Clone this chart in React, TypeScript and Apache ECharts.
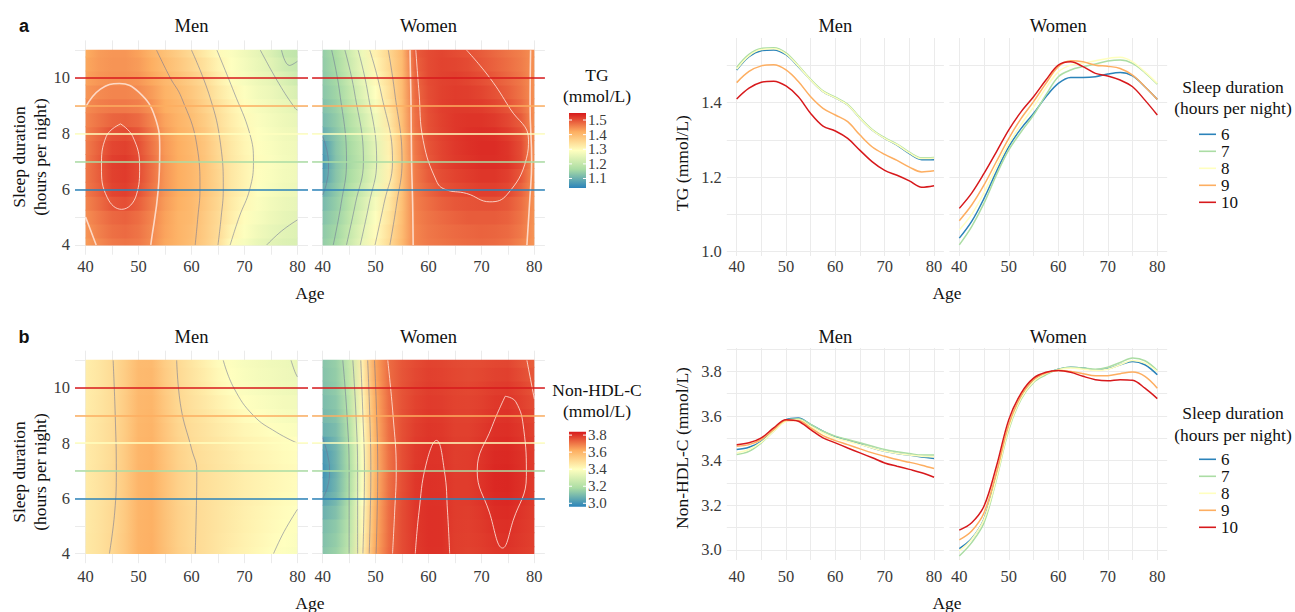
import React, { useEffect, useRef } from "react";
import * as echarts from "echarts";

// ---------------- data ----------------
const AGES = [40, 42.5, 45, 47.5, 50, 52.5, 55, 57.5, 60, 62.5, 65, 67.5, 70, 72.5, 75, 77.5, 80];
const SLEEP_ROWS = [4, 4.5, 5, 5.5, 6, 6.5, 7, 7.5, 8, 8.5, 9, 9.5, 10, 10.5, 11];
const SLEEP_GROUPS = ["6", "7", "8", "9", "10"];

const AGE_LABELS = [40, 50, 60, 70, 80];
const AGE_GRIDLINES = [40, 45, 50, 55, 60, 65, 70, 75, 80];
const SLEEP_LABELS = [4, 6, 8, 10];
const SLEEP_GRIDLINES = [4, 5, 6, 7, 8, 9, 10, 11];
const TG_AXIS_LABELS = [1.0, 1.2, 1.4];
const TG_AXIS_GRIDLINES = [1.0, 1.1, 1.2, 1.3, 1.4, 1.5];
const NHDL_AXIS_LABELS = [3.0, 3.2, 3.4, 3.6, 3.8];
const NHDL_AXIS_GRIDLINES = [3.0, 3.1, 3.2, 3.3, 3.4, 3.5, 3.6, 3.7, 3.8, 3.9];
const TG_BAR_LABELS = [1.1, 1.2, 1.3, 1.4, 1.5];
const NHDL_BAR_LABELS = [3.0, 3.2, 3.4, 3.6, 3.8];
const TG_SCALE = [1.035, 1.548];
const NHDL_SCALE = [2.96, 3.84];

// heat maps: rows = SLEEP_ROWS (4 .. 11), columns = AGES (40 .. 80)
const TG_MEN_HEAT = [
  [1.435, 1.452, 1.465, 1.470, 1.465, 1.449, 1.425, 1.410, 1.395, 1.372, 1.345, 1.300, 1.280, 1.260, 1.248, 1.240, 1.235],
  [1.441, 1.459, 1.473, 1.478, 1.470, 1.452, 1.428, 1.410, 1.397, 1.374, 1.348, 1.310, 1.288, 1.270, 1.256, 1.247, 1.241],
  [1.447, 1.465, 1.480, 1.485, 1.475, 1.455, 1.430, 1.410, 1.400, 1.375, 1.350, 1.320, 1.295, 1.280, 1.265, 1.255, 1.248],
  [1.456, 1.476, 1.496, 1.502, 1.488, 1.462, 1.435, 1.415, 1.402, 1.380, 1.355, 1.325, 1.302, 1.285, 1.272, 1.262, 1.256],
  [1.465, 1.485, 1.510, 1.515, 1.500, 1.470, 1.440, 1.420, 1.405, 1.385, 1.360, 1.330, 1.310, 1.290, 1.280, 1.270, 1.265],
  [1.466, 1.489, 1.514, 1.519, 1.504, 1.473, 1.440, 1.420, 1.405, 1.385, 1.358, 1.330, 1.310, 1.293, 1.283, 1.273, 1.268],
  [1.465, 1.490, 1.515, 1.520, 1.505, 1.475, 1.440, 1.420, 1.405, 1.385, 1.355, 1.330, 1.310, 1.295, 1.285, 1.275, 1.270],
  [1.463, 1.486, 1.509, 1.514, 1.501, 1.470, 1.438, 1.418, 1.403, 1.383, 1.353, 1.328, 1.308, 1.293, 1.283, 1.273, 1.268],
  [1.460, 1.480, 1.500, 1.505, 1.495, 1.465, 1.435, 1.415, 1.400, 1.380, 1.350, 1.325, 1.305, 1.290, 1.280, 1.270, 1.265],
  [1.455, 1.470, 1.483, 1.486, 1.478, 1.455, 1.428, 1.410, 1.395, 1.373, 1.345, 1.320, 1.300, 1.285, 1.275, 1.265, 1.258],
  [1.450, 1.460, 1.465, 1.465, 1.460, 1.445, 1.420, 1.405, 1.390, 1.365, 1.340, 1.315, 1.295, 1.280, 1.270, 1.260, 1.250],
  [1.440, 1.450, 1.455, 1.455, 1.450, 1.435, 1.412, 1.398, 1.380, 1.358, 1.330, 1.305, 1.288, 1.272, 1.262, 1.247, 1.232],
  [1.430, 1.440, 1.445, 1.445, 1.440, 1.425, 1.405, 1.390, 1.370, 1.350, 1.320, 1.295, 1.280, 1.265, 1.255, 1.235, 1.215],
  [1.425, 1.437, 1.442, 1.442, 1.435, 1.418, 1.398, 1.380, 1.360, 1.338, 1.310, 1.290, 1.275, 1.260, 1.245, 1.220, 1.205],
  [1.420, 1.435, 1.440, 1.440, 1.430, 1.410, 1.390, 1.370, 1.350, 1.325, 1.300, 1.285, 1.270, 1.255, 1.235, 1.205, 1.195],
];

const TG_WOMEN_HEAT = [
  [1.140, 1.160, 1.210, 1.258, 1.302, 1.347, 1.400, 1.455, 1.465, 1.470, 1.475, 1.478, 1.480, 1.478, 1.472, 1.458, 1.440],
  [1.135, 1.155, 1.203, 1.250, 1.296, 1.342, 1.397, 1.455, 1.467, 1.473, 1.478, 1.482, 1.484, 1.483, 1.478, 1.465, 1.441],
  [1.125, 1.148, 1.193, 1.240, 1.288, 1.335, 1.395, 1.458, 1.470, 1.478, 1.485, 1.490, 1.490, 1.490, 1.485, 1.470, 1.442],
  [1.112, 1.140, 1.182, 1.228, 1.277, 1.327, 1.392, 1.460, 1.475, 1.487, 1.495, 1.498, 1.500, 1.500, 1.494, 1.475, 1.443],
  [1.095, 1.133, 1.172, 1.214, 1.263, 1.320, 1.390, 1.462, 1.483, 1.498, 1.505, 1.510, 1.515, 1.515, 1.508, 1.485, 1.444],
  [1.075, 1.128, 1.163, 1.203, 1.252, 1.314, 1.389, 1.464, 1.490, 1.503, 1.512, 1.518, 1.523, 1.523, 1.515, 1.495, 1.445],
  [1.062, 1.125, 1.158, 1.197, 1.246, 1.310, 1.388, 1.465, 1.495, 1.510, 1.520, 1.525, 1.530, 1.530, 1.525, 1.505, 1.445],
  [1.068, 1.127, 1.161, 1.200, 1.250, 1.313, 1.389, 1.467, 1.497, 1.511, 1.521, 1.527, 1.532, 1.532, 1.524, 1.504, 1.446],
  [1.095, 1.131, 1.167, 1.207, 1.258, 1.319, 1.391, 1.470, 1.500, 1.513, 1.522, 1.528, 1.530, 1.528, 1.518, 1.500, 1.446],
  [1.112, 1.138, 1.176, 1.218, 1.269, 1.326, 1.393, 1.472, 1.501, 1.514, 1.522, 1.525, 1.525, 1.520, 1.508, 1.490, 1.445],
  [1.122, 1.145, 1.186, 1.230, 1.280, 1.333, 1.395, 1.474, 1.502, 1.515, 1.520, 1.520, 1.518, 1.510, 1.498, 1.478, 1.445],
  [1.130, 1.152, 1.196, 1.242, 1.291, 1.340, 1.397, 1.477, 1.503, 1.514, 1.518, 1.516, 1.510, 1.500, 1.488, 1.470, 1.445],
  [1.135, 1.157, 1.204, 1.252, 1.301, 1.346, 1.398, 1.480, 1.505, 1.513, 1.515, 1.510, 1.502, 1.492, 1.480, 1.466, 1.445],
  [1.138, 1.161, 1.210, 1.259, 1.308, 1.351, 1.399, 1.485, 1.505, 1.512, 1.510, 1.505, 1.495, 1.485, 1.475, 1.463, 1.445],
  [1.140, 1.165, 1.215, 1.265, 1.315, 1.355, 1.400, 1.490, 1.505, 1.510, 1.505, 1.499, 1.490, 1.480, 1.470, 1.460, 1.445],
];

const NHDL_MEN_HEAT = [
  [3.460, 3.480, 3.505, 3.550, 3.605, 3.615, 3.570, 3.530, 3.505, 3.490, 3.470, 3.450, 3.435, 3.420, 3.405, 3.395, 3.385],
  [3.460, 3.480, 3.505, 3.550, 3.604, 3.614, 3.569, 3.529, 3.504, 3.490, 3.471, 3.453, 3.438, 3.424, 3.410, 3.399, 3.390],
  [3.458, 3.478, 3.503, 3.548, 3.603, 3.613, 3.568, 3.528, 3.503, 3.489, 3.472, 3.456, 3.441, 3.428, 3.415, 3.404, 3.395],
  [3.457, 3.477, 3.502, 3.547, 3.602, 3.612, 3.567, 3.527, 3.502, 3.489, 3.473, 3.458, 3.443, 3.431, 3.419, 3.408, 3.400],
  [3.456, 3.476, 3.501, 3.546, 3.601, 3.611, 3.566, 3.526, 3.501, 3.489, 3.474, 3.460, 3.445, 3.434, 3.423, 3.412, 3.405],
  [3.455, 3.475, 3.500, 3.545, 3.600, 3.610, 3.565, 3.525, 3.500, 3.488, 3.474, 3.460, 3.446, 3.435, 3.425, 3.415, 3.408],
  [3.455, 3.475, 3.500, 3.545, 3.600, 3.610, 3.565, 3.525, 3.500, 3.488, 3.473, 3.460, 3.445, 3.435, 3.425, 3.415, 3.410],
  [3.454, 3.474, 3.499, 3.544, 3.599, 3.609, 3.563, 3.523, 3.498, 3.485, 3.470, 3.456, 3.441, 3.431, 3.421, 3.411, 3.405],
  [3.453, 3.473, 3.498, 3.543, 3.598, 3.607, 3.560, 3.520, 3.495, 3.480, 3.465, 3.450, 3.435, 3.425, 3.415, 3.405, 3.400],
  [3.452, 3.472, 3.497, 3.542, 3.596, 3.604, 3.557, 3.515, 3.492, 3.475, 3.457, 3.440, 3.424, 3.413, 3.403, 3.393, 3.388],
  [3.451, 3.471, 3.496, 3.541, 3.594, 3.601, 3.553, 3.510, 3.488, 3.470, 3.450, 3.430, 3.410, 3.400, 3.390, 3.380, 3.375],
  [3.450, 3.470, 3.495, 3.540, 3.592, 3.598, 3.549, 3.507, 3.483, 3.462, 3.437, 3.417, 3.400, 3.390, 3.380, 3.370, 3.365],
  [3.449, 3.469, 3.495, 3.539, 3.590, 3.595, 3.545, 3.505, 3.480, 3.455, 3.425, 3.405, 3.390, 3.380, 3.370, 3.360, 3.355],
  [3.448, 3.468, 3.495, 3.538, 3.588, 3.592, 3.540, 3.502, 3.475, 3.448, 3.418, 3.400, 3.385, 3.375, 3.365, 3.357, 3.350],
  [3.447, 3.467, 3.495, 3.537, 3.585, 3.588, 3.535, 3.500, 3.470, 3.440, 3.410, 3.395, 3.380, 3.370, 3.360, 3.355, 3.345],
];

const NHDL_WOMEN_HEAT = [
  [3.120, 3.150, 3.240, 3.440, 3.630, 3.720, 3.765, 3.792, 3.805, 3.803, 3.785, 3.780, 3.785, 3.795, 3.798, 3.790, 3.780],
  [3.110, 3.140, 3.230, 3.430, 3.625, 3.718, 3.765, 3.793, 3.806, 3.804, 3.786, 3.782, 3.788, 3.799, 3.803, 3.793, 3.782],
  [3.100, 3.130, 3.220, 3.420, 3.620, 3.716, 3.764, 3.794, 3.806, 3.804, 3.787, 3.784, 3.792, 3.805, 3.808, 3.796, 3.784],
  [3.070, 3.110, 3.210, 3.410, 3.615, 3.714, 3.763, 3.795, 3.806, 3.804, 3.788, 3.786, 3.796, 3.810, 3.813, 3.800, 3.786],
  [3.040, 3.090, 3.200, 3.400, 3.610, 3.712, 3.762, 3.795, 3.805, 3.803, 3.788, 3.788, 3.800, 3.815, 3.818, 3.804, 3.788],
  [3.010, 3.080, 3.190, 3.390, 3.605, 3.710, 3.761, 3.795, 3.804, 3.802, 3.788, 3.789, 3.802, 3.818, 3.820, 3.806, 3.789],
  [3.000, 3.075, 3.185, 3.385, 3.600, 3.708, 3.760, 3.794, 3.803, 3.801, 3.787, 3.789, 3.802, 3.818, 3.820, 3.806, 3.790],
  [3.010, 3.078, 3.190, 3.390, 3.603, 3.709, 3.760, 3.792, 3.802, 3.800, 3.786, 3.788, 3.800, 3.815, 3.817, 3.804, 3.788],
  [3.030, 3.085, 3.195, 3.395, 3.607, 3.711, 3.760, 3.790, 3.800, 3.797, 3.785, 3.786, 3.797, 3.811, 3.813, 3.800, 3.785],
  [3.070, 3.100, 3.205, 3.405, 3.612, 3.713, 3.759, 3.786, 3.797, 3.794, 3.783, 3.783, 3.793, 3.806, 3.808, 3.795, 3.780],
  [3.090, 3.115, 3.215, 3.415, 3.617, 3.715, 3.757, 3.782, 3.794, 3.791, 3.781, 3.780, 3.788, 3.800, 3.803, 3.790, 3.774],
  [3.100, 3.125, 3.225, 3.425, 3.622, 3.716, 3.755, 3.778, 3.790, 3.787, 3.778, 3.776, 3.783, 3.794, 3.797, 3.782, 3.765],
  [3.110, 3.135, 3.235, 3.435, 3.627, 3.717, 3.753, 3.774, 3.786, 3.783, 3.775, 3.772, 3.778, 3.787, 3.790, 3.775, 3.755],
  [3.115, 3.140, 3.240, 3.440, 3.632, 3.718, 3.751, 3.770, 3.782, 3.779, 3.772, 3.768, 3.772, 3.780, 3.782, 3.765, 3.745],
  [3.120, 3.145, 3.245, 3.445, 3.635, 3.718, 3.750, 3.766, 3.778, 3.775, 3.768, 3.764, 3.766, 3.772, 3.774, 3.755, 3.735],
];

// contour lines of the heat maps: [age, sleep] points
const TG_MEN_CONTOURS = [
  { level: 1.5, points: [[46.6, 8.35], [48.9, 7.9], [50.2, 6.8], [49.6, 5.8], [46.8, 5.28], [44.1, 5.7], [43.0, 6.8], [43.9, 7.9], [46.6, 8.35]] },
  { level: 1.45, points: [[40, 8.95], [42.8, 9.6], [46.4, 9.8], [50, 9.5], [53.1, 8.6], [54, 7.4], [53.7, 5.95], [52.4, 4.13], [52.3, 4]] },
  { level: 1.45, points: [[40, 5.0], [41, 4.5], [42, 4]] },
  { level: 1.4, points: [[53.4, 11], [56, 10], [58.1, 9.3], [61, 7.6], [61.6, 6], [61.2, 5], [60.7, 4]] },
  { level: 1.35, points: [[60, 11], [63.5, 9.3], [65.5, 7.6], [66, 6], [65.6, 5], [65, 4]] },
  { level: 1.3, points: [[64.8, 11], [68, 9.5], [71, 8], [71.7, 7], [71, 6], [69, 5], [67.3, 4]] },
  { level: 1.25, points: [[73, 11], [76.5, 9.8], [79.6, 8.9], [80, 8.85]] },
  { level: 1.25, points: [[74.2, 4], [77, 4.5], [80, 4.9]] },
  { level: 1.2, points: [[77, 11], [78.5, 10.45], [80, 10.6]] },
];
const TG_WOMEN_CONTOURS = [
  { level: 1.1, points: [[40, 7.9], [40.9, 7.3], [41.1, 6.8], [40.7, 6.2], [40, 5.8]] },
  { level: 1.15, points: [[41.7, 11], [43.2, 9.5], [44.5, 7], [43.5, 5.5], [42, 4]] },
  { level: 1.2, points: [[44.2, 11], [46, 9.5], [47.7, 7], [46.2, 5.5], [44.5, 4]] },
  { level: 1.25, points: [[46.7, 11], [48.5, 9.5], [50.2, 7], [48.8, 5.5], [47.1, 4]] },
  { level: 1.3, points: [[48.9, 11], [51, 9.5], [53.2, 7], [51.6, 5.5], [49.9, 4]] },
  { level: 1.35, points: [[52.4, 11], [53.6, 9.5], [55, 7], [54, 5.5], [52.7, 4]] },
  { level: 1.45, points: [[56.5, 11], [56.7, 9], [56.8, 7], [57, 5.5], [57.1, 4]] },
  { level: 1.5, points: [[57.6, 11], [58.2, 9.5], [59, 7.75], [61.5, 6.3], [63.1, 6], [67.2, 5.85], [71.6, 5.55], [74.8, 5.8], [78.5, 7.1], [78.9, 7.8], [75.4, 8.9], [71.6, 10], [67.2, 11]] },
  { level: 1.45, points: [[79.3, 11], [79.2, 9], [79.5, 7], [79.1, 5.5], [78.6, 4]] },
];
const NHDL_MEN_CONTOURS = [
  { level: 3.5, points: [[45.2, 11], [45.6, 9], [45.8, 7], [45.5, 5.5], [44.5, 4]] },
  { level: 3.5, points: [[57.2, 11], [58, 9.3], [60, 7.8], [61, 7], [60.9, 5.5], [60.7, 4]] },
  { level: 3.4, points: [[66, 11], [68, 10], [71.7, 9], [76, 8.4], [80, 8]] },
  { level: 3.4, points: [[75.5, 4], [77.5, 4.8], [80, 5.6]] },
  { level: 3.35, points: [[78.8, 11], [79.5, 10.6], [80, 10.4]] },
];
const NHDL_WOMEN_CONTOURS = [
  { level: 3.05, points: [[40, 8.2], [40.9, 7.6], [41.3, 7], [40.9, 6.4], [40, 6]] },
  { level: 3.2, points: [[43.8, 11], [44.6, 9], [45, 7], [45, 5.5], [45, 4]] },
  { level: 3.3, points: [[45.7, 11], [46.3, 9], [46.6, 7], [46.6, 5.5], [46.6, 4]] },
  { level: 3.4, points: [[47.2, 11], [47.6, 9], [47.9, 7], [47.8, 5.5], [47.6, 4]] },
  { level: 3.5, points: [[48.5, 11], [48.9, 9], [49.1, 7], [49, 5.5], [48.8, 4]] },
  { level: 3.6, points: [[49.8, 11], [50.2, 9], [50.4, 7], [50.3, 5.5], [50.1, 4]] },
  { level: 3.75, points: [[52.3, 11], [53.3, 9], [53.9, 7], [53.6, 5.5], [53.2, 4]] },
  { level: 3.8, points: [[57.5, 4], [58.2, 5.5], [59.5, 7.2], [61.5, 8.1], [63, 7], [63.6, 5.5], [64, 4]] },
  { level: 3.8, points: [[74.5, 9.7], [72, 8.6], [69.2, 7], [71.5, 5.5], [74, 4.2], [76, 5.2], [78.5, 6.8], [78, 8.5], [76.5, 9.5], [74.5, 9.7]] },
  { level: 3.75, points: [[78.6, 11], [79.3, 10.3], [80, 9.6]] },
];

// line charts: rows = SLEEP_GROUPS (6..10), columns = AGES
const TG_MEN_LINES = [
  [1.488, 1.524, 1.540, 1.542, 1.529, 1.497, 1.461, 1.430, 1.413, 1.394, 1.358, 1.326, 1.304, 1.286, 1.263, 1.247, 1.247],
  [1.495, 1.530, 1.546, 1.548, 1.534, 1.500, 1.463, 1.432, 1.415, 1.396, 1.360, 1.328, 1.306, 1.289, 1.267, 1.252, 1.253],
  [1.490, 1.526, 1.543, 1.545, 1.531, 1.498, 1.461, 1.430, 1.413, 1.394, 1.358, 1.326, 1.304, 1.287, 1.265, 1.250, 1.251],
  [1.454, 1.484, 1.499, 1.502, 1.488, 1.457, 1.416, 1.385, 1.367, 1.349, 1.313, 1.281, 1.261, 1.245, 1.227, 1.214, 1.217],
  [1.410, 1.439, 1.455, 1.458, 1.445, 1.416, 1.371, 1.337, 1.324, 1.304, 1.272, 1.241, 1.218, 1.205, 1.190, 1.173, 1.177],
];
const TG_WOMEN_LINES = [
  [1.036, 1.081, 1.143, 1.215, 1.282, 1.331, 1.371, 1.416, 1.452, 1.468, 1.468, 1.470, 1.477, 1.481, 1.472, 1.443, 1.409],
  [1.018, 1.067, 1.130, 1.206, 1.273, 1.322, 1.367, 1.421, 1.470, 1.488, 1.497, 1.504, 1.512, 1.515, 1.506, 1.481, 1.450],
  [1.058, 1.100, 1.158, 1.228, 1.290, 1.342, 1.388, 1.440, 1.483, 1.501, 1.506, 1.513, 1.519, 1.522, 1.510, 1.483, 1.452],
  [1.083, 1.125, 1.179, 1.242, 1.304, 1.358, 1.403, 1.452, 1.497, 1.513, 1.510, 1.501, 1.498, 1.492, 1.474, 1.443, 1.409],
  [1.116, 1.157, 1.210, 1.268, 1.327, 1.376, 1.416, 1.461, 1.501, 1.510, 1.497, 1.479, 1.472, 1.461, 1.443, 1.407, 1.367],
];
const NHDL_MEN_LINES = [
  [3.450, 3.460, 3.487, 3.536, 3.584, 3.591, 3.562, 3.532, 3.507, 3.492, 3.475, 3.457, 3.442, 3.432, 3.425, 3.417, 3.410],
  [3.428, 3.442, 3.480, 3.532, 3.580, 3.588, 3.562, 3.532, 3.510, 3.495, 3.480, 3.465, 3.450, 3.440, 3.432, 3.425, 3.425],
  [3.435, 3.450, 3.483, 3.532, 3.577, 3.584, 3.554, 3.524, 3.502, 3.487, 3.472, 3.457, 3.442, 3.432, 3.425, 3.420, 3.418],
  [3.465, 3.472, 3.495, 3.539, 3.580, 3.580, 3.547, 3.512, 3.490, 3.472, 3.453, 3.435, 3.420, 3.405, 3.393, 3.380, 3.365],
  [3.472, 3.480, 3.502, 3.547, 3.584, 3.577, 3.539, 3.502, 3.480, 3.457, 3.435, 3.413, 3.390, 3.375, 3.361, 3.346, 3.326],
];
const NHDL_WOMEN_LINES = [
  [3.006, 3.051, 3.140, 3.331, 3.554, 3.685, 3.758, 3.790, 3.810, 3.819, 3.815, 3.807, 3.812, 3.830, 3.845, 3.830, 3.785],
  [2.973, 3.033, 3.122, 3.316, 3.539, 3.676, 3.751, 3.785, 3.810, 3.819, 3.815, 3.810, 3.819, 3.840, 3.860, 3.848, 3.804],
  [2.996, 3.048, 3.137, 3.323, 3.547, 3.681, 3.755, 3.790, 3.807, 3.815, 3.810, 3.804, 3.810, 3.830, 3.849, 3.837, 3.800],
  [3.045, 3.085, 3.167, 3.346, 3.562, 3.691, 3.763, 3.793, 3.804, 3.800, 3.790, 3.781, 3.781, 3.790, 3.797, 3.778, 3.725],
  [3.089, 3.122, 3.197, 3.375, 3.584, 3.703, 3.770, 3.796, 3.804, 3.796, 3.778, 3.763, 3.758, 3.763, 3.760, 3.725, 3.678],
];

// ---------------- styles / layout ----------------
const SERIF = "'Liberation Serif', 'Times New Roman', serif";
const SANS = "'Liberation Sans', Arial, sans-serif";
const SLEEP_COLORS = ["#2b83ba", "#abdda4", "#ffffbf", "#fdae61", "#d7191c"];
const HEAT_PALETTE = ["#2b83ba", "#abdda4", "#ffffbf", "#fdae61", "#d7191c"];
const TICK_COLOR = "#3a3a3a";
const TITLE_COLOR = "#111111";
const GRID_COLOR = "#ebebeb";

const PANELS = [
  { kind: "heat", left: 75, top: 40.4, width: 233, height: 214.3, showY: true, xMargin: 3.5 },
  { kind: "heat", left: 312.1, top: 40.4, width: 232.8, height: 214.3, showY: false, xMargin: 3.5 },
  { kind: "tg", left: 726.8, top: 38, width: 217.1, height: 218, showY: true, xMargin: 2 },
  { kind: "tg", left: 949.4, top: 38, width: 217.8, height: 218, showY: false, xMargin: 2 },
  { kind: "heat", left: 75, top: 350.7, width: 233, height: 212.5, showY: true, xMargin: 5 },
  { kind: "heat", left: 312.1, top: 350.7, width: 232.8, height: 212.5, showY: false, xMargin: 5 },
  { kind: "nhdl", left: 726.8, top: 348, width: 217.1, height: 212, showY: true, xMargin: 8 },
  { kind: "nhdl", left: 949.4, top: 348, width: 217.8, height: 212, showY: false, xMargin: 8 },
];

function hexRgb(h: string) {
  return [parseInt(h.slice(1, 3), 16), parseInt(h.slice(3, 5), 16), parseInt(h.slice(5, 7), 16)];
}
function colorOf(v: number, scale: number[]) {
  let t = (v - scale[0]) / (scale[1] - scale[0]);
  t = Math.max(0, Math.min(1, t));
  const n = HEAT_PALETTE.length - 1;
  const p = t * n;
  const i = Math.min(n - 1, Math.floor(p));
  const f = p - i;
  const a = hexRgb(HEAT_PALETTE[i]);
  const b = hexRgb(HEAT_PALETTE[i + 1]);
  const c = a.map((x, k) => Math.round(x + (b[k] - x) * f));
  return `rgb(${c[0]},${c[1]},${c[2]})`;
}

function heatSeries(gi: number, values: number[][], scale: number[]) {
  return {
    type: "custom",
    xAxisIndex: gi,
    yAxisIndex: gi,
    silent: true,
    z: 1,
    data: SLEEP_ROWS.map((s) => [40, s]),
    renderItem: (params: any, api: any) => {
      const j = params.dataIndex;
      const s = SLEEP_ROWS[j];
      const lo = Math.max(4, s - 0.25);
      const hi = Math.min(11, s + 0.25);
      const p0 = api.coord([40, hi]);
      const p1 = api.coord([80, lo]);
      return {
        type: "rect",
        shape: { x: p0[0], y: p0[1] - 0.5, width: p1[0] - p0[0], height: p1[1] - p0[1] + 1 },
        style: {
          fill: {
            type: "linear", x: 0, y: 0, x2: 1, y2: 0,
            colorStops: AGES.map((a, i) => ({ offset: (a - 40) / 40, color: colorOf(values[j][i], scale) })),
          },
        },
      };
    },
  };
}

function contourSeries(gi: number, contours: { level: number; points: number[][] }[], scale: number[]) {
  return contours.map((c) => {
    const t = (c.level - scale[0]) / (scale[1] - scale[0]);
    const color = t > 0.74 ? "rgba(255,236,228,0.8)" : "rgba(110,115,150,0.55)";
    return {
      type: "line",
      xAxisIndex: gi,
      yAxisIndex: gi,
      data: c.points,
      smooth: 0.45,
      symbol: "none",
      silent: true,
      z: 2,
      lineStyle: { color, width: t > 0.74 && t < 0.85 ? 1.6 : 1 },
    };
  });
}

function hlineSeries(gi: number) {
  return {
    type: "line",
    xAxisIndex: gi,
    yAxisIndex: gi,
    data: [],
    silent: true,
    z: 3,
    markLine: {
      silent: true,
      symbol: ["none", "none"],
      label: { show: false },
      animation: false,
      data: SLEEP_GROUPS.map((g, i) => ({
        yAxis: Number(g),
        lineStyle: { color: SLEEP_COLORS[i], width: 1.6, type: "solid", opacity: 1 },
      })),
    },
  };
}

function lineSeries(gi: number, rows: number[][]) {
  return SLEEP_GROUPS.map((g, i) => ({
    type: "line",
    name: g,
    xAxisIndex: gi,
    yAxisIndex: gi,
    data: AGES.map((a, k) => [a, rows[i][k]]),
    smooth: 0.35,
    symbol: "none",
    z: 2,
    lineStyle: { color: SLEEP_COLORS[i], width: 1.5 },
    itemStyle: { color: SLEEP_COLORS[i] },
  }));
}

function txt(x: number, y: number, text: string, size: number, opts: any = {}) {
  return {
    type: "text",
    x,
    y,
    rotation: opts.rotation || 0,
    silent: true,
    z: 10,
    style: {
      text,
      fill: opts.color || TITLE_COLOR,
      fontSize: size,
      fontFamily: opts.family || SERIF,
      fontWeight: opts.weight || "normal",
      align: opts.align || "center",
      verticalAlign: "middle",
      textAlign: opts.align || "center",
      textVerticalAlign: "middle",
    },
  };
}

function colorbar(x: number, top: number, h: number, scale: number[], labels: number[], titles: string[], titleYs: number[]) {
  const els: any[] = [];
  els.push({
    type: "rect",
    x,
    y: top,
    shape: { x: 0, y: 0, width: 17, height: h },
    silent: true,
    style: {
      fill: {
        type: "linear", x: 0, y: 1, x2: 0, y2: 0,
        colorStops: HEAT_PALETTE.map((c, i) => ({ offset: i / (HEAT_PALETTE.length - 1), color: c })),
      },
    },
  });
  labels.forEach((v) => {
    const y = top + ((scale[1] - v) / (scale[1] - scale[0])) * h;
    els.push(txt(x + 19, y, v.toFixed(1), 15, { align: "left", color: TICK_COLOR }));
    els.push({ type: "line", silent: true, shape: { x1: x, y1: y, x2: x + 3, y2: y }, style: { stroke: "#ffffff", lineWidth: 1 } });
    els.push({ type: "line", silent: true, shape: { x1: x + 14, y1: y, x2: x + 17, y2: y }, style: { stroke: "#ffffff", lineWidth: 1 } });
  });
  titles.forEach((t, i) => els.push(txt(597, titleYs[i], t, 17.5)));
  return els;
}

function buildOption() {
  const grid = PANELS.map((p) => ({ left: p.left, top: p.top, width: p.width, height: p.height, containLabel: false }));
  const xAxis = PANELS.map((p, gi) => ({
    type: "value",
    gridIndex: gi,
    min: 38,
    max: 82,
    axisLine: { show: false },
    axisTick: { show: false, customValues: AGE_GRIDLINES },
    axisLabel: { customValues: AGE_LABELS, margin: p.xMargin, fontFamily: SERIF, fontSize: 16.5, color: TICK_COLOR },
    splitLine: { show: true, lineStyle: { color: GRID_COLOR, width: 1 } },
  }));
  const yAxis = PANELS.map((p, gi) => {
    const heat = p.kind === "heat";
    const tg = p.kind === "tg";
    return {
      type: "value",
      gridIndex: gi,
      min: heat ? 3.65 : tg ? 0.988 : 2.955,
      max: heat ? 11.35 : tg ? 1.574 : 3.905,
      axisLine: { show: false },
      axisTick: { show: false, customValues: heat ? SLEEP_GRIDLINES : tg ? TG_AXIS_GRIDLINES : NHDL_AXIS_GRIDLINES },
      axisLabel: {
        show: p.showY,
        customValues: heat ? SLEEP_LABELS : tg ? TG_AXIS_LABELS : NHDL_AXIS_LABELS,
        formatter: (v: number) => (heat ? String(v) : v.toFixed(1)),
        margin: 5,
        fontFamily: SERIF,
        fontSize: 16.5,
        color: TICK_COLOR,
      },
      splitLine: { show: true, lineStyle: { color: GRID_COLOR, width: 1 } },
    };
  });

  const series: any[] = [
    heatSeries(0, TG_MEN_HEAT, TG_SCALE),
    heatSeries(1, TG_WOMEN_HEAT, TG_SCALE),
    heatSeries(4, NHDL_MEN_HEAT, NHDL_SCALE),
    heatSeries(5, NHDL_WOMEN_HEAT, NHDL_SCALE),
    ...contourSeries(0, TG_MEN_CONTOURS, TG_SCALE),
    ...contourSeries(1, TG_WOMEN_CONTOURS, TG_SCALE),
    ...contourSeries(4, NHDL_MEN_CONTOURS, NHDL_SCALE),
    ...contourSeries(5, NHDL_WOMEN_CONTOURS, NHDL_SCALE),
    hlineSeries(0),
    hlineSeries(1),
    hlineSeries(4),
    hlineSeries(5),
    ...lineSeries(2, TG_MEN_LINES),
    ...lineSeries(3, TG_WOMEN_LINES),
    ...lineSeries(6, NHDL_MEN_LINES),
    ...lineSeries(7, NHDL_WOMEN_LINES),
  ];

  const legendBase = {
    data: SLEEP_GROUPS,
    orient: "vertical",
    left: 1199,
    itemWidth: 17,
    itemHeight: 1.6,
    icon: "rect",
    itemGap: 0,
    padding: 0,
    selectedMode: false,
    textStyle: { fontFamily: SERIF, fontSize: 17, color: TITLE_COLOR },
  };
  const legend = [
    { ...legendBase, top: 125.8, textStyle: { ...legendBase.textStyle, lineHeight: 14.5 } },
    { ...legendBase, top: 450.8, textStyle: { ...legendBase.textStyle, lineHeight: 14.75 } },
  ];

  const mid = (i: number) => PANELS[i].left + PANELS[i].width / 2;
  const elements: any[] = [
    txt(24, 26, "a", 18, { family: SANS, weight: "bold" }),
    txt(24, 337, "b", 18, { family: SANS, weight: "bold" }),
  ];
  [0, 1, 2, 3].forEach((i) => elements.push(txt(mid(i), 26, i % 2 === 0 ? "Men" : "Women", 18.5)));
  [4, 5, 6, 7].forEach((i) => elements.push(txt(mid(i), 337, i % 2 === 0 ? "Men" : "Women", 18.5)));
  const heatMidX = (PANELS[0].left + PANELS[1].left + PANELS[1].width) / 2;
  const lineMidX = (PANELS[2].left + PANELS[3].left + PANELS[3].width) / 2;
  elements.push(txt(heatMidX, 293, "Age", 17.5));
  elements.push(txt(lineMidX, 293, "Age", 17.5));
  elements.push(txt(heatMidX, 603, "Age", 17.5));
  elements.push(txt(lineMidX, 603, "Age", 17.5));
  [157, 472].forEach((cy) => {
    elements.push(txt(19, cy, "Sleep duration", 17.5, { rotation: Math.PI / 2 }));
    elements.push(txt(40, cy, "(hours per night)", 17.5, { rotation: Math.PI / 2 }));
  });
  elements.push(txt(682, 163, "TG (mmol/L)", 17.5, { rotation: Math.PI / 2 }));
  elements.push(txt(682, 448, "Non-HDL-C (mmol/L)", 17.5, { rotation: Math.PI / 2 }));
  elements.push(txt(1233, 87, "Sleep duration", 17.5));
  elements.push(txt(1233, 108, "(hours per night)", 17.5));
  elements.push(txt(1233, 413, "Sleep duration", 17.5));
  elements.push(txt(1233, 435, "(hours per night)", 17.5));
  elements.push(...colorbar(569, 113, 75, TG_SCALE, TG_BAR_LABELS, ["TG", "(mmol/L)"], [75, 96]));
  elements.push(...colorbar(569, 431.7, 75, NHDL_SCALE, NHDL_BAR_LABELS, ["Non-HDL-C", "(mmol/L)"], [390, 411]));

  return {
    animation: false,
    backgroundColor: "#ffffff",
    grid,
    xAxis,
    yAxis,
    series,
    legend,
    graphic: { elements },
  };
}

export default function App() {
  const ref = useRef<HTMLDivElement>(null);
  useEffect(() => {
    if (!ref.current) return;
    const chart = echarts.init(ref.current, null, { renderer: "svg" });
    chart.setOption(buildOption() as any);
    return () => chart.dispose();
  }, []);
  return (
    <div
      ref={ref}
      style={{ position: "absolute", left: 0, top: 0, width: 1295, height: 612, background: "#ffffff" }}
    />
  );
}
